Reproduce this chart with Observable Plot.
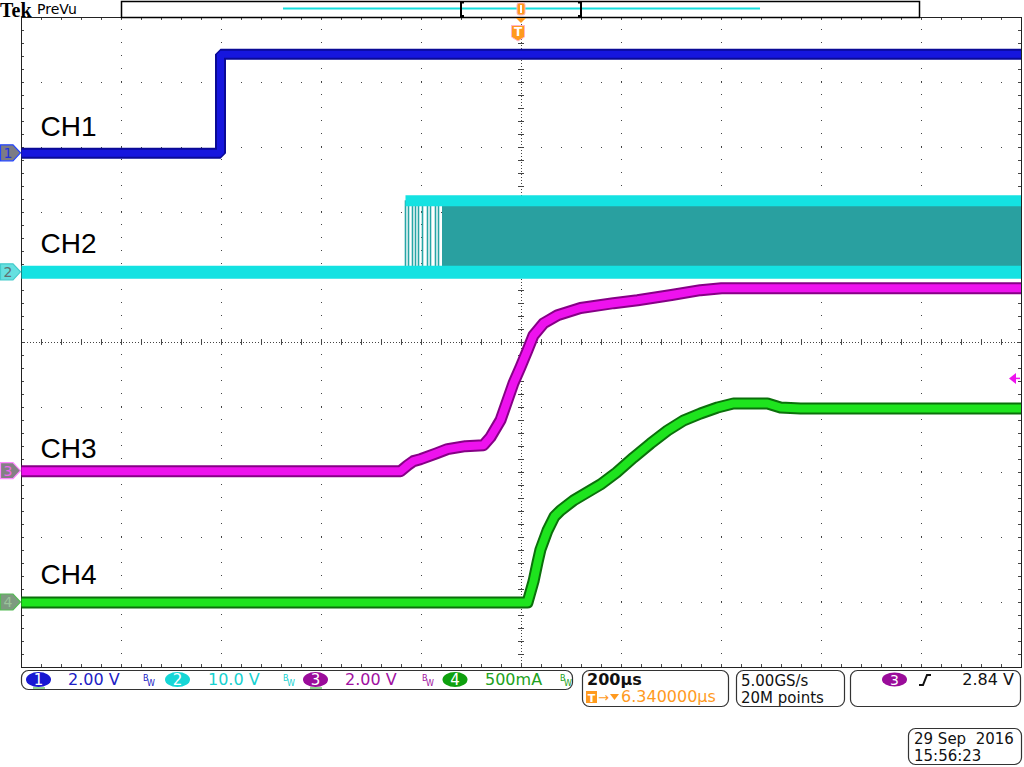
<!DOCTYPE html>
<html><head><meta charset="utf-8">
<script src="https://cdn.jsdelivr.net/npm/d3@7"></script>
<script src="https://cdn.jsdelivr.net/npm/@observablehq/plot@0.6"></script>
<style>
html,body{margin:0;padding:0;background:#fff;overflow:hidden}
#chart svg{display:block;background:#fff}
</style></head><body><div id="chart"></div>
<script>
// ---- scope settings ----
const channelNames   = ["CH1", "CH2", "CH3", "CH4"];
const channelScales  = [2.0, 10.0, 2.0, 0.5];       // units per division
const channelUnits   = ["V", "V", "V", "A"];
const channelOffsets = [2.91, 1.08, -1.98, -4.0];   // marker position (div)
const scaleLabels    = ["2.00 V", "10.0 V", "2.00 V", "500mA"];
const timePerDiv = 200;         // µs
const triggerLevel = 2.84;      // V on CH3

// ---- CH1 (V vs µs) ----
const ch1Time  = [-1000, -602, -602, 1000];
const ch1Volts = [0, 0, 3.05, 3.05];

// ---- CH2 switching node (V vs µs) ----
const ch2Levels = [0, 11.0];
const ch2BurstStart = -232;
const ch2SparseEdges = [-232, -226, -218, -212, -206, -198, -188, -182, -172, -166];
const ch2DenseStart = -158;

// ---- CH3 (V vs µs) ----
const ch3Time  = [-1000, -242, -228, -216, -202, -170, -148, -112, -76, -62, -42, -16, -2, 12, 24, 44, 72, 118, 184, 232, 300, 358, 400, 1000];
const ch3Volts = [0, 0, 0.18, 0.31, 0.37, 0.55, 0.68, 0.77, 0.80, 1.05, 1.57, 2.71, 3.20, 3.72, 4.18, 4.55, 4.80, 5.02, 5.17, 5.26, 5.42, 5.57, 5.63, 5.63];

// ---- CH4 (A vs µs) ----
const ch4Time = [-1000, 12, 24, 32, 38, 52, 66, 78, 104, 158, 190, 224, 258, 292, 324, 358, 392, 424, 492, 518, 558, 1000];
const ch4Amps = [0, 0, 0.162, 0.308, 0.408, 0.554, 0.662, 0.708, 0.785, 0.908, 1.0, 1.115, 1.223, 1.323, 1.40, 1.454, 1.50, 1.531, 1.531, 1.50, 1.492, 1.492];

// ---- label positions (div) ----
const labelDivs = [3.17, 1.37, -1.77, -3.71];

const toDiv = (ch, v) => channelOffsets[ch] + v / channelScales[ch];
const series = (ts, vs, ch) => ts.map((t, i) => ({t, d: toDiv(ch, vs[i])}));
const ch1 = series(ch1Time, ch1Volts, 0);
const ch3 = series(ch3Time, ch3Volts, 2);
const ch4 = series(ch4Time, ch4Amps, 3);
const ch2Lo = toDiv(1, ch2Levels[0]), ch2Hi = toDiv(1, ch2Levels[1]);

const gridT = d3.range(-5, 6).map(i => i * timePerDiv).filter(t => t !== 0 && Math.abs(t) !== 1000);
const gridD = d3.range(-4, 5).filter(d => d !== 0);
const minorT = d3.range(-1000, 1001, timePerDiv / 5);
const minorD = d3.range(-5, 5.001, 0.2);

const cols = {c1:"#1616de", c1d:"#0a0a96", c2:"#14e2e2", c2d:"#29a0a0", c3:"#ee12ee", c3d:"#860086", c4:"#1ee41e", c4d:"#0b700b"};
const tr = {x: "t", y: "d", clip: true, strokeLinecap: "butt", strokeLinejoin: "miter"};

const chart = Plot.plot({
  width: 1024, height: 767,
  marginLeft: 21, marginRight: 3, marginTop: 17, marginBottom: 100,
  x: {domain: [-1000, 1000], axis: null},
  y: {domain: [-5, 5], axis: null},
  style: {background: "#fff"},
  marks: [
    // graticule
    Plot.ruleX(gridT, {y1: -5, y2: 5, stroke: "#444", strokeDasharray: "1,12"}),
    Plot.ruleY(gridD, {x1: -1000, x2: 1000, stroke: "#444", strokeDasharray: "1,19"}),
    Plot.ruleX([0], {y1: -5, y2: 5, stroke: "#444", strokeDasharray: "1,2"}),
    Plot.ruleY([0], {x1: -1000, x2: 1000, stroke: "#444", strokeDasharray: "1,2"}),
    Plot.ruleX(minorT, {x: d => d, y1: -0.045, y2: 0.045, stroke: "#444"}),
    Plot.ruleY(minorD, {y: d => d, x1: -6, x2: 6, stroke: "#444"}),
    Plot.ruleX(minorT, {x: d => d, y1: 4.955, y2: 5, stroke: "#444"}),
    Plot.ruleX(minorT, {x: d => d, y1: -5, y2: -4.955, stroke: "#444"}),
    Plot.ruleY(minorD, {y: d => d, x1: -1000, x2: -994, stroke: "#444"}),
    Plot.ruleY(minorD, {y: d => d, x1: 994, x2: 1000, stroke: "#444"}),
    Plot.frame({stroke: "#222"}),
    // CH2 switching burst
    Plot.areaY([{t: ch2DenseStart}, {t: 1000}], {x: "t", y1: ch2Lo, y2: ch2Hi, fill: cols.c2d}),
    Plot.ruleX(ch2SparseEdges, {x: d => d, y1: ch2Lo, y2: ch2Hi, stroke: "#27a6a6", strokeWidth: 1.6}),
    Plot.line([{t: ch2BurstStart, d: ch2Hi}, {t: 1000, d: ch2Hi}], {...tr, stroke: cols.c2, strokeWidth: 11}),
    Plot.line([{t: -1000, d: ch2Lo}, {t: 1000, d: ch2Lo}], {...tr, stroke: cols.c2, strokeWidth: 13}),
    // CH1
    Plot.line(ch1, {...tr, stroke: cols.c1d, strokeWidth: 11}),
    Plot.line(ch1, {...tr, stroke: cols.c1, strokeWidth: 7}),
    // CH3
    Plot.line(ch3, {...tr, stroke: cols.c3d, strokeWidth: 12, strokeLinejoin: "round"}),
    Plot.line(ch3, {...tr, stroke: cols.c3, strokeWidth: 8, strokeLinejoin: "round"}),
    // CH4
    Plot.line(ch4, {...tr, stroke: cols.c4d, strokeWidth: 12, strokeLinejoin: "round"}),
    Plot.line(ch4, {...tr, stroke: cols.c4, strokeWidth: 8, strokeLinejoin: "round"}),
    // channel labels
    Plot.text(channelNames, {x: -962, y: (d, i) => labelDivs[i], text: d => d, textAnchor: "start", lineAnchor: "bottom",
      fontSize: 28, fontFamily: "Liberation Sans, Arial, sans-serif", fill: "#000"})
  ]
});
document.getElementById("chart").appendChild(chart);

const xs = chart.scale("x"), ys = chart.scale("y");
const px = v => xs.apply(v), py = v => ys.apply(v);
const svg = d3.select(chart);
const g = svg.append("g").attr("text-anchor", "start").style("text-anchor", "start");
const UI = "DejaVu Sans, Verdana, sans-serif";
const T = (x, y, s, size, fill, anchor = "start", weight = "normal", fam = UI) =>
  g.append("text").attr("x", x).attr("y", y).attr("text-anchor", anchor).style("text-anchor", anchor)
   .attr("font-family", fam).attr("font-size", size).attr("font-weight", weight).attr("fill", fill)
   .attr("xml:space", "preserve").style("white-space", "pre").text(s);

// left channel markers
const mk = [
  {fill:"#7c7c84", stroke:"#2244ff", text:"#2233dd"},
  {fill:"#66e0e0", stroke:"#44cccc", text:"#607070"},
  {fill:"#848084", stroke:"#ff88ff", text:"#ee66ee"},
  {fill:"#7e9a80", stroke:"#55bb55", text:"#9ac49a"}
];
channelOffsets.forEach((o, i) => {
  const y = py(o);
  g.append("path").attr("d", `M0.5,${y-8} L13,${y-8} L20.5,${y} L13,${y+8} L0.5,${y+8} Z`)
    .attr("fill", mk[i].fill).attr("stroke", mk[i].stroke).attr("stroke-width", 1.2);
  T(8, y + 5, String(i + 1), 14, mk[i].text, "middle");
});

// trigger level arrow (CH3)
{
  const y = py(toDiv(2, triggerLevel));
  g.append("path").attr("d", `M1009,${y} L1016,${y-5.5} L1016,${y+5.5} Z`).attr("fill", cols.c3);
  g.append("line").attr("x1", 1014).attr("x2", 1020).attr("y1", y).attr("y2", y).attr("stroke", cols.c3).attr("stroke-width", 1.5);
}

// ---- top bar ----
T(0, 17, "Tek", 20, "#000", "start", "bold", "Liberation Serif, Times New Roman, serif");
T(37, 14, "PreVu", 14, "#000");
g.append("rect").attr("x", 121.5).attr("y", 1.5).attr("width", 798).attr("height", 16).attr("fill", "#fff").attr("stroke", "#000").attr("stroke-width", 1.5);
g.append("line").attr("x1", 283).attr("x2", 760).attr("y1", 8.5).attr("y2", 8.5).attr("stroke", "#14dede").attr("stroke-width", 2);
[[461, 1], [581, -1]].forEach(([x, s]) => {
  g.append("path").attr("d", `M${x+3*s},2.5 L${x},2.5 L${x},16 L${x+3*s},16`).attr("fill", "none").attr("stroke", "#000").attr("stroke-width", 2);
});
g.append("rect").attr("x", 517).attr("y", 3).attr("width", 8).attr("height", 12).attr("rx", 2).attr("fill", "#ff9a1e").attr("stroke", "#ffb4c8");
g.append("line").attr("x1", 521).attr("x2", 521).attr("y1", 5).attr("y2", 13).attr("stroke", "#fff").attr("stroke-width", 2);
g.append("path").attr("d", "M516,18 L526,18 L521,23 Z").attr("fill", "#ff9a1e");
g.append("path").attr("d", "M511.5,25.5 L524.5,25.5 L524.5,37 L518,41 L511.5,37 Z").attr("fill", "#ff9a1e").attr("stroke", "#ffb4c8");
T(518, 36, "T", 12, "#fff", "middle", "bold");

// ---- bottom status ----
const box = (x, y, w, h) => g.append("rect").attr("x", x + 0.5).attr("y", y + 0.5).attr("width", w).attr("height", h)
  .attr("rx", 7).attr("fill", "#fff").attr("stroke", "#333").attr("stroke-width", 1.2);
box(21, 670, 551, 19);
box(582, 670, 146, 36);
box(736, 670, 108, 36);
box(850, 670, 170, 36);
box(908, 728, 113, 36);

const chanUI = [
  {badge:"#1818d2", text:"#2020c4", bx:38.5, tx:68, bw:143},
  {badge:"#16d6d6", text:"#16d0d0", bx:177.5, tx:208, bw:283},
  {badge:"#9a0c9a", text:"#a010a0", bx:315.5, tx:345, bw:422},
  {badge:"#0fa00f", text:"#20a020", bx:455, tx:485, bw:560}
];
chanUI.forEach((c, i) => {
  g.append("ellipse").attr("cx", c.bx).attr("cy", 679.5).attr("rx", 12.5).attr("ry", 7.5).attr("fill", c.badge);
  T(c.bx, 685, String(i + 1), 15, "#fff", "middle");
  T(c.tx, 685, scaleLabels[i], 16, c.text);
  T(c.bw, 681, "B", 8, c.text);
  T(c.bw + 4, 686, "W", 8, c.text);
});
[[33, 45], [310, 322]].forEach(([a, b]) => g.append("line").attr("x1", a).attr("x2", b).attr("y1", 688).attr("y2", 688).attr("stroke", "#22aa22"));

T(587, 685, timePerDiv + "µs", 16, "#111", "start", "bold");
g.append("rect").attr("x", 586).attr("y", 691).attr("width", 11).attr("height", 12).attr("fill", "#ff9a1e");
T(591.5, 701.5, "T", 11, "#fff", "middle", "bold");
T(598, 702, "→", 13, "#ff9a1e");
g.append("path").attr("d", "M610,694 L619,694 L614.5,700 Z").attr("fill", "#ff9a1e");
T(621, 702, "6.340000µs", 16, "#ff9a1e");

T(741, 686, "5.00GS/s", 15, "#111");
T(741, 702.5, "20M points", 15, "#111");

g.append("ellipse").attr("cx", 894.5).attr("cy", 679.5).attr("rx", 12.5).attr("ry", 7).attr("fill", "#9a0c9a");
T(894.5, 685, "3", 14, "#fff", "middle");
g.append("path").attr("d", "M919,685 L923,685 L927,675 L931,675").attr("fill", "none").attr("stroke", "#111").attr("stroke-width", 2);
T(1014, 685, triggerLevel.toFixed(2) + " V", 16, "#111", "end");

T(914, 744, "29 Sep  2016", 15, "#111");
T(914, 761, "15:56:23", 15, "#111");
</script></body></html>
